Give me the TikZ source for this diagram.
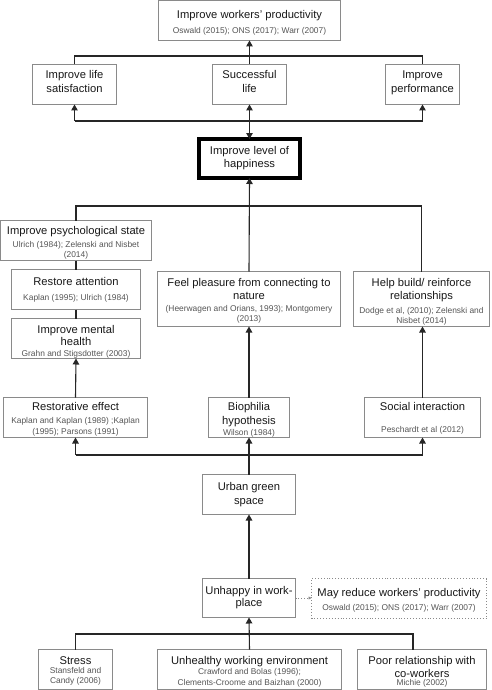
\documentclass[tikz,border=0pt]{standalone}
\usepackage{fontspec}
\setmainfont{Liberation Sans}
\usetikzlibrary{arrows.meta}
\definecolor{boxgray}{HTML}{8A8A8A}
\definecolor{citegray}{HTML}{555555}
\tikzset{
  box/.style={draw=boxgray, line width=0.9pt, rectangle, inner sep=0pt, outer sep=0pt},
  thickbox/.style={draw=black, line width=4pt, rectangle, inner sep=0pt, outer sep=0pt},
  dotbox/.style={draw=boxgray, line width=0.9pt, dotted, rectangle, inner sep=0pt, outer sep=0pt},
  maintxt/.style={font=\fontsize{11.2}{13}\selectfont, text=black!90, text height=8pt, text depth=0pt, inner sep=0pt, anchor=center},
  citetxt/.style={font=\fontsize{8.4}{10}\selectfont, text=citegray, text height=6pt, text depth=0pt, inner sep=0pt, anchor=center},
  conn/.style={draw=black!85, line width=1.1pt},
  arr/.style={conn, -{Triangle[length=6pt,width=6.5pt]}},
  dblarr/.style={conn, {Triangle[length=6pt,width=6.5pt]}-{Triangle[length=6pt,width=6.5pt]}},
  dotarr/.style={draw=boxgray, line width=0.9pt, dotted, -{Triangle[length=3pt,width=3pt]}},
}
\begin{document}
\begin{tikzpicture}[x=1pt,y=-1pt]
\useasboundingbox (0,0) rectangle (491,690);
\fill[white] (0,0) rectangle (491,690);

% ---------- boxes ----------
\node[box, minimum width=182pt, minimum height=40pt] (top) at (249.5,20.5) {};
\node[box, minimum width=84pt, minimum height=40pt] (lifesat) at (74.5,84.5) {};
\node[box, minimum width=74pt, minimum height=40pt] (succ) at (249.5,84.5) {};
\node[box, minimum width=74pt, minimum height=40pt] (perf) at (422.5,84.5) {};
\node[thickbox, minimum width=101pt, minimum height=39pt] (happy) at (249.5,158.5) {};
\node[box, minimum width=151pt, minimum height=40pt] (psych) at (76,240.5) {};
\node[box, minimum width=129pt, minimum height=40pt] (restore) at (76,289.5) {};
\node[box, minimum width=129pt, minimum height=40pt] (mental) at (76,338.5) {};
\node[box, minimum width=183pt, minimum height=55pt] (feel) at (249,299) {};
\node[box, minimum width=136pt, minimum height=55pt] (help) at (421.5,299) {};
\node[box, minimum width=144pt, minimum height=40pt] (restorative) at (75.5,417.5) {};
\node[box, minimum width=81pt, minimum height=40pt] (bio) at (249,417.5) {};
\node[box, minimum width=116pt, minimum height=40pt] (social) at (422.5,417.5) {};
\node[box, minimum width=93pt, minimum height=40pt] (urban) at (249,494.5) {};
\node[box, minimum width=93pt, minimum height=39pt] (unhappy) at (249,598) {};
\node[dotbox, minimum width=175pt, minimum height=40pt] (may) at (399,598.5) {};
\node[box, minimum width=74pt, minimum height=40pt] (stress) at (75.5,669.5) {};
\node[box, minimum width=184pt, minimum height=40pt] (unhealthy) at (249.5,669.5) {};
\node[box, minimum width=129pt, minimum height=40pt] (poor) at (422,669.5) {};

% ---------- texts ----------
\node[maintxt] (t1a) at (249.5,15) {Improve workers' productivity};
\node[citetxt] (t1b) at (249.5,31) {Oswald (2015); ONS (2017); Warr (2007)};

\node[maintxt] (t2a) at (74.5,75) {Improve life};
\node[maintxt] (t2b) at (74.5,88.3) {satisfaction};
\node[maintxt] (t3a) at (249.5,75) {Successful};
\node[maintxt] (t3b) at (249.5,88.3) {life};
\node[maintxt] (t4a) at (422.5,75) {Improve};
\node[maintxt] (t4b) at (422.5,88.3) {performance};

\node[maintxt] (t5a) at (249.5,150) {Improve level of};
\node[maintxt] (t5b) at (249.5,163.3) {happiness};

\node[maintxt] (t6a) at (76,230.7) {Improve psychological state};
\node[citetxt] (t6b) at (76,244.3) {Ulrich (1984); Zelenski and Nisbet};
\node[citetxt] (t6c) at (76,254.3) {(2014)};

\node[maintxt] (t7a) at (76,281) {Restore attention};
\node[citetxt] (t7b) at (76,297.3) {Kaplan (1995); Ulrich (1984)};

\node[maintxt] (t8a) at (76,329.3) {Improve mental};
\node[maintxt] (t8b) at (76,341.7) {health};
\node[citetxt] (t8c) at (76,353.3) {Grahn and Stigsdotter (2003)};

\node[maintxt] (t9a) at (249,282.3) {Feel pleasure from connecting to};
\node[maintxt] (t9b) at (249,295.3) {nature};
\node[citetxt] (t9c) at (249,308.3) {(Heerwagen and Orians, 1993); Montgomery};
\node[citetxt] (t9d) at (249,318.8) {(2013)};

\node[maintxt] (t10a) at (421.5,282.3) {Help build/ reinforce};
\node[maintxt] (t10b) at (421.5,295.3) {relationships};
\node[citetxt] (t10c) at (421.5,310) {Dodge et al, (2010); Zelenski and};
\node[citetxt] (t10d) at (421.5,320) {Nisbet (2014)};

\node[maintxt] (t11a) at (75.5,406.7) {Restorative effect};
\node[citetxt] (t11b) at (75.5,420.7) {Kaplan and Kaplan (1989) ;Kaplan};
\node[citetxt] (t11c) at (75.5,431) {(1995); Parsons (1991)};

\node[maintxt] (t12a) at (249,406.7) {Biophilia};
\node[maintxt] (t12b) at (249,420.3) {hypothesis};
\node[citetxt] (t12c) at (249,432.7) {Wilson (1984)};

\node[maintxt] (t13a) at (422.5,406.7) {Social interaction};
\node[citetxt] (t13b) at (422.5,429.3) {Peschardt et al (2012)};

\node[maintxt] (t14a) at (249,486.7) {Urban green};
\node[maintxt] (t14b) at (249,500.3) {space};

\node[maintxt] (t15a) at (249,590) {Unhappy in work-};
\node[maintxt] (t15b) at (249,602.7) {place};

\node[maintxt] (t16a) at (399,592.7) {May reduce workers' productivity};
\node[citetxt] (t16b) at (399,607.3) {Oswald (2015); ONS (2017); Warr (2007)};

\node[maintxt] (t17a) at (75.5,660) {Stress};
\node[citetxt] (t17b) at (75.5,670.7) {Stansfeld and};
\node[citetxt] (t17c) at (75.5,680.7) {Candy (2006)};

\node[maintxt] (t18a) at (249.5,660) {Unhealthy working environment};
\node[citetxt] (t18b) at (249.5,671.3) {Crawford and Bolas (1996);};
\node[citetxt] (t18c) at (249.5,682) {Clements-Croome and Baizhan (2000)};

\node[maintxt] (t19a) at (422,660) {Poor relationship with};
\node[maintxt] (t19b) at (422,673.3) {co-workers};
\node[citetxt] (t19c) at (422,682) {Michie (2002)};

% ---------- junction coordinates ----------
\coordinate (jtop) at (249.5,56);
\coordinate (jmid) at (249.5,121);
\coordinate (jh) at (249,206);
\coordinate (jb) at (249,455);
\coordinate (jw) at (249,634);
\coordinate (jp) at (413,634);

% ---------- connectors ----------
\draw[arr] (succ.north) -- (top.south);
\draw[conn] (lifesat.north) -- (lifesat.north |- jtop) -- (perf.north |- jtop) -- (perf.north);

\draw[conn] (lifesat.south |- jmid) -- (perf.south |- jmid);
\draw[arr] (lifesat.south |- jmid) -- (lifesat.south);
\draw[arr] (perf.south |- jmid) -- (perf.south);
\draw[dblarr] (happy.north) -- (succ.south);

\draw[arr] (feel.north) -- (happy.south);
\draw[conn] (psych.north) -- (psych.north |- jh) -- (help.north |- jh) -- (help.north);
\draw[conn] (psych.south) -- (restore.north);
\draw[conn] (restore.south) -- (mental.north);

\draw[arr] (restorative.north) -- (mental.south);
\draw[arr] (bio.north) -- (feel.south);
\draw[arr] (social.north) -- (social.north |- help.south);

\draw[conn] (restorative.south |- jb) -- (social.south |- jb);
\draw[arr] (restorative.south |- jb) -- (restorative.south);
\draw[arr] (social.south |- jb) -- (social.south);
\draw[arr] (urban.north) -- (bio.south);

\draw[arr] (unhappy.north) -- (urban.south);
\draw[dotarr] (unhappy.east) -- (may.west |- unhappy.east);

\draw[conn] (stress.north) -- (stress.north |- jw) -- (jp) -- (jp |- poor.north);
\draw[arr] (unhealthy.north) -- (unhappy.south);
\end{tikzpicture}
\end{document}
